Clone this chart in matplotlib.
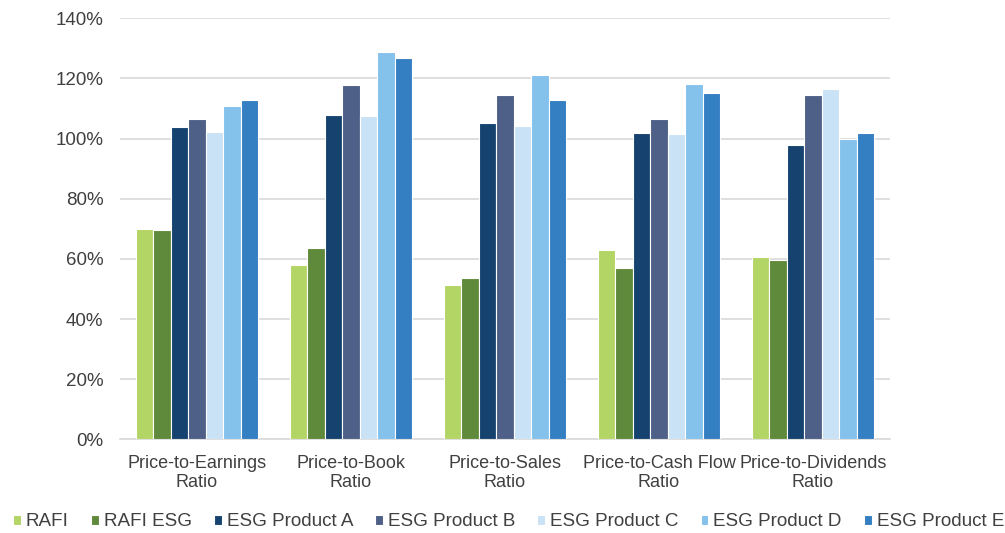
import matplotlib
matplotlib.use("Agg")
import matplotlib.pyplot as plt
import numpy as np
from matplotlib.ticker import FuncFormatter, MultipleLocator

plt.rcParams['font.family'] = ['Liberation Sans', 'DejaVu Sans']

categories = ["Price-to-Earnings\nRatio", "Price-to-Book\nRatio", "Price-to-Sales\nRatio",
              "Price-to-Cash Flow\nRatio", "Price-to-Dividends\nRatio"]
series_names = ["RAFI", "RAFI ESG", "ESG Product A", "ESG Product B",
                "ESG Product C", "ESG Product D", "ESG Product E"]
rafi = [69.9, 57.9, 51.4, 63.0, 60.7]
rafi_esg = [69.7, 63.7, 53.8, 57.0, 59.7]
product_a = [103.7, 107.9, 105.2, 101.9, 97.8]
product_b = [106.6, 117.9, 114.6, 106.6, 114.6]
product_c = [102.3, 107.4, 104.3, 101.4, 116.4]
product_d = [110.9, 128.9, 121.1, 118.3, 100.0]
product_e = [112.9, 126.8, 112.8, 115.3, 102.0]
series_values = [rafi, rafi_esg, product_a, product_b, product_c, product_d, product_e]
colors = ["#B3D566", "#5F8A3B", "#15426F", "#4E6087", "#C9E2F5", "#84C1EB", "#347EC2"]

fig = plt.figure(figsize=(10.05, 5.33), dpi=100)
ax = fig.add_axes([120 / 1005, 1 - 439.3 / 533, 770 / 1005, 421 / 533])

x = np.arange(len(categories))
width = 0.114
n = len(series_names)
for i, (name, vals, c) in enumerate(zip(series_names, series_values, colors)):
    offs = (i - (n - 1) / 2) * width
    ax.bar(x + offs, vals, width, color=c, edgecolor="white", linewidth=0.8,
           label=name, zorder=3)

ax.set_xlim(-0.5, len(categories) - 0.5)
ax.set_ylim(0, 140)
ax.yaxis.set_major_locator(MultipleLocator(20))
ax.yaxis.set_major_formatter(FuncFormatter(lambda v, p: f"{v:.0f}%"))
ax.grid(axis="y", color="#D9D9D9", linewidth=1.2, zorder=0)
ax.set_axisbelow(True)
for s in ["top", "right", "left"]:
    ax.spines[s].set_visible(False)
ax.spines["bottom"].set_color("#D9D9D9")
ax.spines["bottom"].set_linewidth(1.2)
ax.tick_params(axis="both", length=0, labelcolor="#404040")
ax.tick_params(axis="y", pad=12, labelsize=13.5)
ax.tick_params(axis="x", pad=11, labelsize=13)
ax.set_xticks(x)
ax.set_xticklabels(categories, linespacing=1.15)

leg = fig.legend(loc="center left", bbox_to_anchor=(13 / 1005, 1 - 522 / 533), ncol=7,
                 frameon=False, fontsize=13.6, handlelength=0.42, handleheight=0.42,
                 handletextpad=0.265, columnspacing=1.16, labelcolor="#404040",
                 borderaxespad=0, borderpad=0)

fig.savefig("out.png", dpi=100)
